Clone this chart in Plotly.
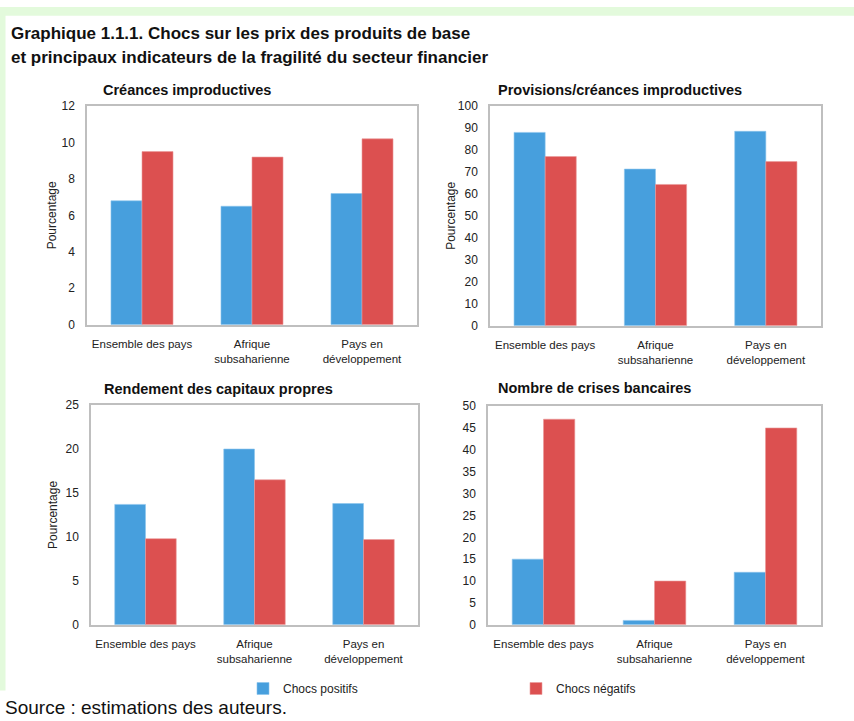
import plotly.graph_objects as go

W, H = 854, 721

categories = ["Ensemble des pays", "Afrique<br>subsaharienne", "Pays en<br>développement"]
series_names = ["Chocs positifs", "Chocs négatifs"]

creances_pos = [6.8, 6.5, 7.2]
creances_neg = [9.5, 9.2, 10.2]
provisions_pos = [88, 71.3, 88.5]
provisions_neg = [77, 64.3, 74.7]
rendement_pos = [13.7, 20.0, 13.8]
rendement_neg = [9.8, 16.5, 9.7]
crises_pos = [15, 1, 12]
crises_neg = [47, 10, 45]

panel_titles = ["Créances improductives", "Provisions/créances improductives",
                "Rendement des capitaux propres", "Nombre de crises bancaires"]
y_ranges = [(0, 12), (0, 100), (0, 25), (0, 50)]
y_dticks = [2, 10, 5, 5]
y_titles = ["Pourcentage", "Pourcentage", "Pourcentage", None]

BLUE = "#479fdd"
RED = "#dc5050"
FONT = "Liberation Sans Narrow, Arial Narrow, Liberation Sans, Arial"
TXT = "#222222"

def px_x(v):
    return v / W

def px_y(v):
    return 1 - v / H

# pixel boxes (left, right, top, bottom)
boxes = [(87, 417, 101, 324), (490, 821, 101, 325), (91, 418, 406, 630), (488, 821, 407, 630)]
title_pos = [(101, 85), (496, 85), (102, 390), (496, 389)]
ytitle_x = [52, 451, 53, None]

data = [(creances_pos, creances_neg), (provisions_pos, provisions_neg),
        (rendement_pos, rendement_neg), (crises_pos, crises_neg)]

fig = go.Figure()
for i, (pos, neg) in enumerate(data):
    xa = "x" if i == 0 else f"x{i+1}"
    ya = "y" if i == 0 else f"y{i+1}"
    fig.add_trace(go.Bar(x=categories, y=pos, name=series_names[0], marker_color=BLUE,
                         marker_line=dict(color="#8cc4ec", width=0.6),
                         xaxis=xa, yaxis=ya, showlegend=(i == 0), legendgroup="pos"))
    fig.add_trace(go.Bar(x=categories, y=neg, name=series_names[1], marker_color=RED,
                         marker_line=dict(color="#eb9a9a", width=0.6),
                         xaxis=xa, yaxis=ya, showlegend=(i == 0), legendgroup="neg"))

layout = dict(
    width=W, height=H,
    margin=dict(l=0, r=0, t=0, b=0),
    paper_bgcolor="white", plot_bgcolor="white",
    barmode="group", bargap=0.436, bargroupgap=0,
    font=dict(family=FONT, size=12, color=TXT),
    showlegend=True,
    legend=dict(orientation="h", x=px_x(243), y=px_y(695), yanchor="middle", xanchor="left",
                entrywidth=228, entrywidthmode="pixels", itemwidth=30,
                font=dict(family=FONT, size=12, color=TXT),
                bgcolor="rgba(0,0,0,0)", tracegroupgap=0, itemclick=False),
)

annotations = []
for i in range(4):
    l, r, t, b = boxes[i]
    xk = "xaxis" if i == 0 else f"xaxis{i+1}"
    yk = "yaxis" if i == 0 else f"yaxis{i+1}"
    ya = "y" if i == 0 else f"y{i+1}"
    layout[xk] = dict(domain=[px_x(l), px_x(r)], anchor=ya, showline=True, mirror=True,
                      linecolor="#bfbfbf", linewidth=1.5, showgrid=False, ticks="",
                      tickfont=dict(family=FONT, size=11.5, color=TXT),
                      ticklabelstandoff=8, fixedrange=True)
    layout[yk] = dict(domain=[px_y(b), px_y(t)], anchor="x" if i == 0 else f"x{i+1}",
                      range=list(y_ranges[i]), dtick=y_dticks[i], tick0=0,
                      showline=True, mirror=True, linecolor="#bfbfbf", linewidth=1.5,
                      showgrid=False, zeroline=False, ticks="",
                      tickfont=dict(family=FONT, size=12, color=TXT),
                      ticklabelstandoff=8, fixedrange=True)
    if y_titles[i]:
        annotations.append(dict(text=y_titles[i], x=px_x(ytitle_x[i]), y=px_y((t + b) / 2),
                                xref="paper", yref="paper", xanchor="center", yanchor="middle",
                                textangle=-90, showarrow=False,
                                font=dict(family=FONT, size=12, color=TXT)))
    tx, ty = title_pos[i]
    annotations.append(dict(text=f"<b>{panel_titles[i]}</b>", x=px_x(tx), y=px_y(ty),
                            xref="paper", yref="paper", xanchor="left", yanchor="middle",
                            showarrow=False, font=dict(family=FONT, size=14.5, color="#111111")))

annotations.append(dict(text="<b>Graphique 1.1.1. Chocs sur les prix des produits de base</b>",
                        x=px_x(9), y=px_y(27), xref="paper", yref="paper",
                        xanchor="left", yanchor="middle", showarrow=False,
                        font=dict(family=FONT, size=17, color="#111111")))
annotations.append(dict(text="<b>et principaux indicateurs de la fragilité du secteur financier</b>",
                        x=px_x(9), y=px_y(52), xref="paper", yref="paper",
                        xanchor="left", yanchor="middle", showarrow=False,
                        font=dict(family=FONT, size=17, color="#111111")))
annotations.append(dict(text="Source : estimations des auteurs.",
                        x=px_x(3), y=px_y(714), xref="paper", yref="paper",
                        xanchor="left", yanchor="middle", showarrow=False,
                        font=dict(family="Liberation Sans, Arial", size=19, color="#111111")))
layout["annotations"] = annotations

layout["shapes"] = [
    dict(type="rect", xref="paper", yref="paper", x0=0, x1=1, y0=px_y(9), y1=1,
         fillcolor="#e3fadc", line_width=0, layer="below"),
    dict(type="rect", xref="paper", yref="paper", x0=0, x1=px_x(5.5), y0=px_y(697), y1=1,
         fillcolor="#e3fadc", line_width=0, layer="below"),
]

fig.update_layout(**layout)

post = ("document.body.style.margin='0';document.body.style.padding='0';"
        "var gd=document.getElementById('{plot_id}');"
        "gd.style.position='fixed';gd.style.left='0px';gd.style.top='0px';")
fig.write_html("out.html", post_script=post, config={"displayModeBar": False})
